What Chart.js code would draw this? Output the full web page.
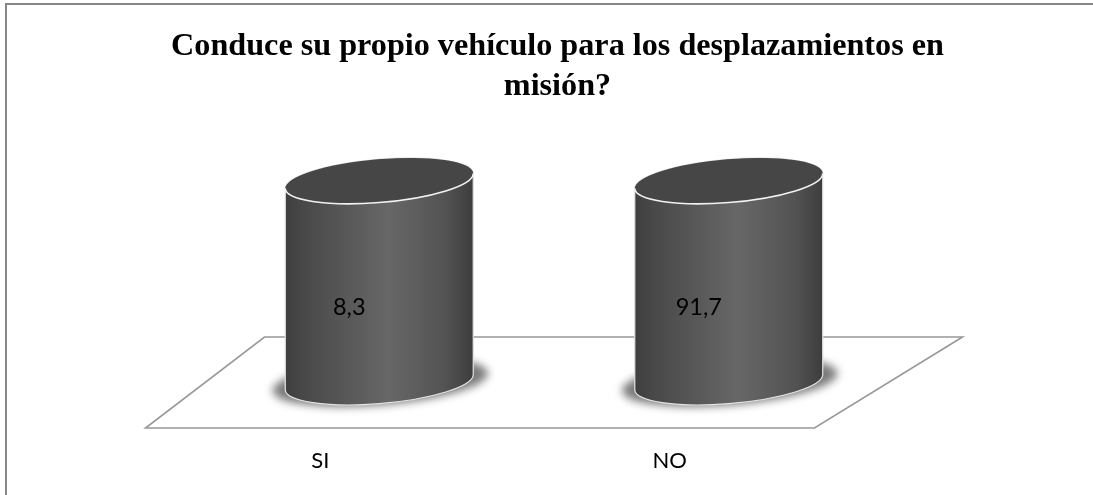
<!DOCTYPE html>
<html><head><meta charset="utf-8">
<style>html,body{margin:0;padding:0;background:#fff}#w{width:1093px;height:495px}</style>
<script src="https://cdn.jsdelivr.net/npm/chart.js@4"></script>
</head><body><div id="w"><canvas id="c"></canvas></div>
<script>
const categories = ['SI', 'NO'];
const values = [8.3, 91.7];
const valueLabels = ['8,3', '91,7'];
const titleLines = ['Conduce su propio vehículo para los desplazamientos en', 'misión?'];
const axisMax = 8;

const THETA = -4.8 * Math.PI / 180;
const cylinder3d = {
  id: 'cylinder3d',
  beforeDraw(chart) {
    const c = chart.ctx;
    c.save();
    c.strokeStyle = '#868686'; c.lineWidth = 2;
    c.beginPath();
    c.moveTo(6, 495); c.lineTo(6, 4); c.lineTo(1093, 4);
    c.stroke();
    c.restore();
  },
  beforeDatasetsDraw(chart) {
    const c = chart.ctx, a = chart.chartArea;
    c.save();
    c.strokeStyle = '#989898'; c.lineWidth = 1.6;
    const front = a.bottom + 46, back = a.bottom - 45;
    c.beginPath();
    c.moveTo(a.left - 59, front); c.lineTo(a.right - 89, front);
    c.lineTo(a.right + 59, back); c.lineTo(a.left + 60, back); c.closePath();
    c.stroke();
    c.restore();
    chart.getDatasetMeta(0).data.forEach(b => {
      c.save();
      c.filter = 'blur(4px)';
      c.fillStyle = '#7a7a7a';
      c.beginPath();
      c.ellipse(b.x + 1, a.bottom, b.width / 2 * 1.15, 23, THETA, 0, Math.PI * 2);
      c.fill();
      c.restore();
    });
  },
  afterDatasetsDraw(chart) {
    const c = chart.ctx, ar = chart.chartArea;
    chart.getDatasetMeta(0).data.forEach((b, i) => {
      const cx = b.x, rx = b.width / 2 * 1.003, ry = rx * 0.229;
      const by = b.base, ty = Math.max(b.y, ar.top);
      const t0 = Math.atan2(-ry * Math.sin(THETA), rx * Math.cos(THETA));
      const xl = cx - rx * Math.cos(t0) * Math.cos(THETA) + ry * Math.sin(t0) * Math.sin(THETA);
      const yl = ty - rx * Math.cos(t0) * Math.sin(THETA) - ry * Math.sin(t0) * Math.cos(THETA);
      c.save();
      const g = c.createLinearGradient(cx - b.width / 2, 0, cx + b.width / 2, 0);
      g.addColorStop(0, '#3f3f3f');
      g.addColorStop(0.12, '#4a4a4a');
      g.addColorStop(0.55, '#676767');
      g.addColorStop(0.85, '#535353');
      g.addColorStop(1, '#3d3d3d');
      c.beginPath();
      c.ellipse(cx, by, rx, ry, THETA, t0, t0 + Math.PI);
      c.lineTo(xl, yl);
      c.ellipse(cx, ty, rx, ry, THETA, t0 + Math.PI, t0 + 2 * Math.PI);
      c.closePath();
      c.fillStyle = g; c.fill();
      c.strokeStyle = '#e4e4e4'; c.lineWidth = 1.2;
      c.stroke();
      c.beginPath();
      c.ellipse(cx, ty, rx, ry, THETA, 0, Math.PI * 2);
      c.fillStyle = '#464646'; c.fill();
      c.beginPath();
      c.ellipse(cx, ty, rx, ry, THETA, t0, t0 + Math.PI);
      c.strokeStyle = '#f2f2f2'; c.lineWidth = 1.6; c.stroke();
      c.fillStyle = '#000';
      c.font = '23.5px Lato, "Open Sans", sans-serif';
      c.textAlign = 'center'; c.textBaseline = 'middle';
      c.fillText(valueLabels[i], cx - 30, 307);
      c.restore();
    });
  }
};

const hiddenAxis = { grid: { display: false, drawTicks: false }, border: { display: false }, ticks: { display: false } };

new Chart(document.getElementById('c'), {
  type: 'bar',
  data: {
    labels: categories,
    datasets: [{
      data: values,
      backgroundColor: 'transparent',
      borderWidth: 0,
      barPercentage: 0.538,
      categoryPercentage: 1
    }]
  },
  options: {
    responsive: true,
    maintainAspectRatio: false,
    animation: false,
    layout: { padding: { left: 22, right: 0, top: 0, bottom: 0 } },
    plugins: {
      legend: { display: false },
      tooltip: { enabled: false },
      title: {
        display: true,
        text: titleLines,
        color: '#000',
        font: { family: '"Liberation Serif", serif', size: 32.2, weight: 'bold', lineHeight: 1.24 },
        padding: { top: 27, bottom: 74 }
      }
    },
    scales: {
      x: {
        grid: { display: false, drawTicks: false },
        border: { display: false },
        ticks: { color: '#000', font: { family: 'Lato, "Open Sans", sans-serif', size: 22 }, labelOffset: -59, padding: 66, maxRotation: 0 },
        afterFit(s) { s.height = 113; }
      },
      y: {
        ...hiddenAxis,
        position: 'left',
        min: 0, max: axisMax,
        afterFit(s) { s.width = 182.5; }
      },
      yGap: {
        ...hiddenAxis,
        position: 'right',
        afterFit(s) { s.width = 189.5; }
      }
    }
  },
  plugins: [cylinder3d]
});
</script></body></html>
